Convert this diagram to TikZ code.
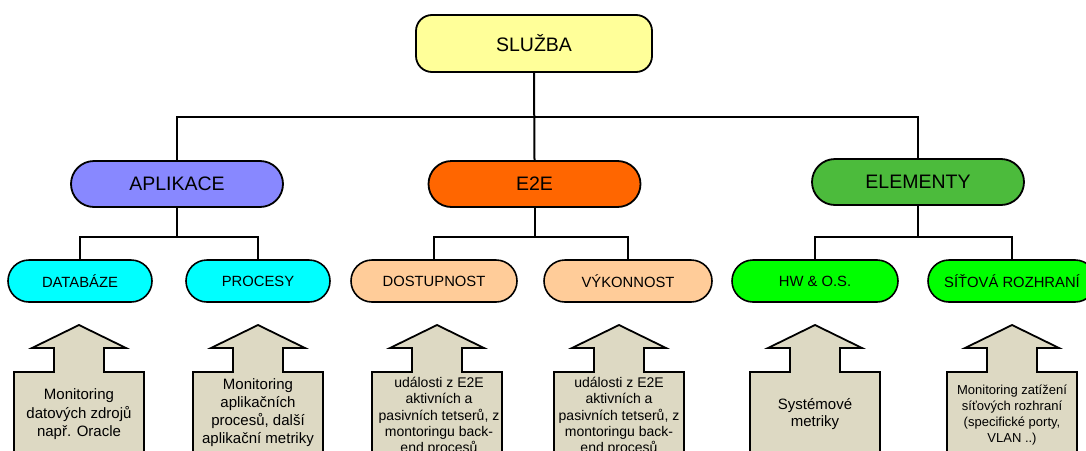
\documentclass[tikz,border=0pt]{standalone}
\usepackage{fontspec}
\setmainfont{Liberation Sans}
\usetikzlibrary{calc}
\definecolor{cSluzba}{HTML}{FFFF99}
\definecolor{cApl}{HTML}{8888FF}
\definecolor{cE2E}{HTML}{FF6600}
\definecolor{cElem}{HTML}{4CBB3C}
\definecolor{cCyan}{HTML}{00FFFF}
\definecolor{cPeach}{HTML}{FFCC99}
\definecolor{cLime}{HTML}{00FF00}
\definecolor{cTan}{HTML}{DDD9C3}
\newcommand{\tanarrow}[1]{%
  \draw[arrowbox] ({#1-65},470) -- ({#1-65},372) -- ({#1-25},372) -- ({#1-25},348) -- ({#1-47},348) -- (#1,325) -- ({#1+47},348) -- ({#1+25},348) -- ({#1+25},372) -- ({#1+65},372) -- ({#1+65},470) -- cycle;}
\begin{document}
\begin{tikzpicture}[x=1pt,y=-1pt,
  topbox/.style={draw=black, line width=1.8pt, rounded corners=16pt, minimum width=236pt, minimum height=57pt, inner sep=0pt, font=\fontsize{19.5}{23}\selectfont},
  lvlone/.style={draw=black, line width=1.8pt, rounded corners=23pt, minimum width=212pt, minimum height=46pt, inner sep=0pt, font=\fontsize{19.5}{23}\selectfont},
  lvltwo/.style={draw=black, line width=1.6pt, rounded corners=21pt, minimum height=42pt, inner sep=0pt, font=\fontsize{14.8}{17}\selectfont},
  conn/.style={draw=black, line width=2pt},
  connthin/.style={draw=black, line width=1.4pt},
  arrowbox/.style={draw=black, line width=1.8pt, fill=cTan, line join=miter},
  atext/.style={align=center, inner sep=0pt}
  ]
\useasboundingbox (0,0) rectangle (1086,450);
\clip (0,0) rectangle (1086,450);
\fill[white] (0,0) rectangle (1086,450);

% nodes
\node[topbox, fill=cSluzba] (sluzba) at (534,43.5) {SLUŽBA};
\node[lvlone, fill=cApl] (apl) at (177,184) {APLIKACE};
\node[lvlone, fill=cE2E] (e2e) at (534.5,184) {E2E};
\node[lvlone, fill=cElem] (elem) at (918,182) {ELEMENTY};

\node[lvltwo, fill=cCyan, minimum width=144pt] (db) at (80,281) {DATABÁZE};
\node[lvltwo, fill=cCyan, minimum width=144pt] (proc) at (258,281) {PROCESY};
\node[lvltwo, fill=cPeach, minimum width=166pt] (dost) at (434,281) {DOSTUPNOST};
\node[lvltwo, fill=cPeach, minimum width=168pt] (vyk) at (628,281) {VÝKONNOST};
\node[lvltwo, fill=cLime, minimum width=166pt] (hw) at (815,281) {HW \& O.S.};
\node[lvltwo, fill=cLime, minimum width=168pt] (sit) at (1012,281) {SÍŤOVÁ ROZHRANÍ};

% connectors
\coordinate (bus) at (534.5,117);
\coordinate (busA) at (177,237);
\coordinate (busE) at (534.5,237);
\coordinate (busL) at (918,237);
\draw[conn] (sluzba.south) -- (e2e.north);
\draw[conn] (apl.north) |- (bus) -| (elem.north);

\draw[conn] (apl.south) -- (busA);
\draw[connthin] (db.north) |- (busA) -| (proc.north);
\draw[conn] (e2e.south) -- (busE);
\draw[connthin] (dost.north) |- (busE) -| (vyk.north);
\draw[conn] (elem.south) -- (busL);
\draw[connthin] (hw.north) |- (busL) -| (sit.north);

% arrows
\tanarrow{79}
\tanarrow{258}
\tanarrow{437}
\tanarrow{619}
\tanarrow{815}
\tanarrow{1012}

\node[atext, font=\fontsize{15}{18.5}\selectfont] (t1) at (79,414.5) {Monitoring\\datových zdrojů\\např. Oracle};
\node[atext, font=\fontsize{15}{18}\selectfont] (t2) at (258,413) {Monitoring\\aplikačních\\procesů, další\\aplikační metriky};
\node[atext, font=\fontsize{14}{16.3}\selectfont, anchor=north] (t3) at (439,377) {události z E2E\\aktivních a\\pasivních tetserů, z\\montoringu back-\\end procesů};
\node[atext, font=\fontsize{14}{16.3}\selectfont, anchor=north] (t4) at (619,377) {události z E2E\\aktivních a\\pasivních tetserů, z\\montoringu back-\\end procesů};
\node[atext, font=\fontsize{15}{17}\selectfont] (t5) at (815,414) {Systémové\\metriky};
\node[atext, font=\fontsize{13}{16}\selectfont] (t6) at (1012,415) {Monitoring zatížení\\síťových rozhraní\\(specifické porty,\\VLAN ..)};
\end{tikzpicture}
\end{document}
